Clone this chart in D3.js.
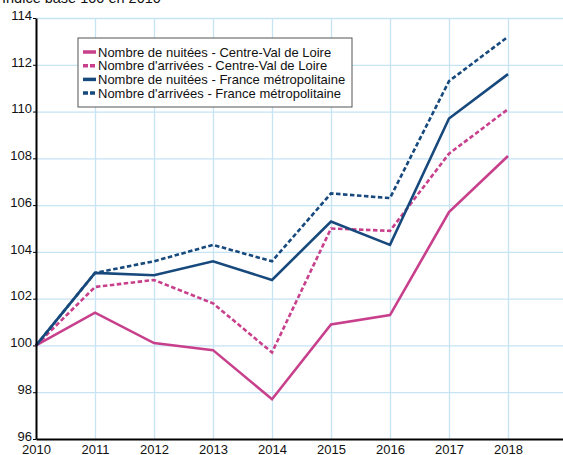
<!DOCTYPE html>
<html lang="fr">
<head>
<meta charset="UTF-8">
<style>
  body { margin: 0; background: #fff; }
  svg { display: block; font-family: "Liberation Sans", Arial, sans-serif; }
  .grid line { stroke: #c6e4f4; stroke-width: 1.3px; }
  .grid path { display: none; }
  .axis text { font-size: 13px; fill: #111; }
  .axis path, .axis line { stroke: #000; }
  .line { fill: none; stroke-width: 2.6px; }
</style>
</head>
<body>
<svg width="563" height="455"></svg>
<script src="https://cdn.jsdelivr.net/npm/d3@7"></script>
<script>
// chart data
var years = [2010, 2011, 2012, 2013, 2014, 2015, 2016, 2017, 2018];
var nuiteesCVL   = [100, 101.4, 100.1, 99.8, 97.7, 100.9, 101.3, 105.7, 108.1];
var arriveesCVL  = [100, 102.5, 102.8, 101.8, 99.7, 105.0, 104.9, 108.2, 110.1];
var nuiteesFR    = [100, 103.1, 103.0, 103.6, 102.8, 105.3, 104.3, 109.7, 111.6];
var arriveesFR   = [100, 103.1, 103.6, 104.3, 103.6, 106.5, 106.3, 111.3, 113.2];
var yTicks = [96, 98, 100, 102, 104, 106, 108, 110, 112, 114];
var xTicks = [2010, 2011, 2012, 2013, 2014, 2015, 2016, 2017, 2018];

var series = [
  {name: "Nombre de nuitées - Centre-Val de Loire", values: nuiteesCVL, color: "#c8408c", dashed: false},
  {name: "Nombre d'arrivées - Centre-Val de Loire", values: arriveesCVL, color: "#c8408c", dashed: true},
  {name: "Nombre de nuitées - France métropolitaine", values: nuiteesFR, color: "#17497d", dashed: false},
  {name: "Nombre d'arrivées - France métropolitaine", values: arriveesFR, color: "#17497d", dashed: true}
];

var svg = d3.select("svg"),
    margin = {left: 36, top: 18},
    plotBottom = 439;

// x axis runs to 2019, just past the right edge
var x = d3.scaleLinear().domain([2010, 2019]).range([margin.left, 567]);
var y = d3.scaleLinear().domain([96, 114]).range([plotBottom, margin.top]);

// title (partly cut by the top edge, as in the original)
svg.append("text")
  .attr("x", 2).attr("y", 3)
  .style("font-size", "14.5px")
  .attr("fill", "#111")
  .text("Indice base 100 en 2010");

// gridlines
svg.append("g").attr("class", "grid")
  .attr("transform", "translate(0," + plotBottom + ")")
  .call(d3.axisBottom(x).tickValues(xTicks.slice(1)).tickSize(-(plotBottom - margin.top)).tickFormat(""));
svg.append("g").attr("class", "grid")
  .attr("transform", "translate(" + margin.left + ",0)")
  .call(d3.axisLeft(y).tickValues(yTicks.slice(1)).tickSize(-(563 - margin.left)).tickFormat(""));

// lines
var line = d3.line()
  .x(function(d, i) { return x(years[i]); })
  .y(function(d) { return y(d); });

svg.selectAll(".line")
  .data(series)
  .enter().append("path")
  .attr("class", "line")
  .attr("d", function(d) { return line(d.values); })
  .style("stroke", function(d) { return d.color; })
  .style("stroke-dasharray", function(d) { return d.dashed ? "4.5,2.5" : null; });

// axes
var yAxis = svg.append("g").attr("class", "axis")
  .attr("transform", "translate(" + margin.left + ",0)")
  .call(d3.axisLeft(y).tickValues(yTicks).tickSize(3).tickPadding(1).tickSizeOuter(0));
yAxis.select(".domain").attr("stroke-width", 2);
yAxis.selectAll("text").attr("dy", "0.1em");

var xAxis = svg.append("g").attr("class", "axis")
  .attr("transform", "translate(0," + plotBottom + ")")
  .call(d3.axisBottom(x).tickValues(xTicks).tickSize(0).tickPadding(6).tickFormat(d3.format("d")).tickSizeOuter(0));
xAxis.select(".domain").attr("stroke-width", 2);
xAxis.selectAll("text").attr("dy", "0.71em");

// legend
var lg = svg.append("g").attr("transform", "translate(78,38)");
lg.append("rect")
  .attr("width", 274).attr("height", 69)
  .attr("fill", "#fff").attr("stroke", "#555").attr("stroke-width", 1);
var item = lg.selectAll(".item")
  .data(series)
  .enter().append("g")
  .attr("transform", function(d, i) { return "translate(5," + (14 + i * 13.7) + ")"; });
item.append("line")
  .attr("x1", 0).attr("x2", 13).attr("y1", 0).attr("y2", 0)
  .attr("stroke", function(d) { return d.color; })
  .attr("stroke-width", 3.5)
  .attr("stroke-dasharray", function(d) { return d.dashed ? "5,2" : null; });
item.append("text")
  .attr("x", 15).attr("dy", "0.35em")
  .style("font-size", "13px")
  .attr("fill", "#111")
  .text(function(d) { return d.name; });
</script>
</body>
</html>
